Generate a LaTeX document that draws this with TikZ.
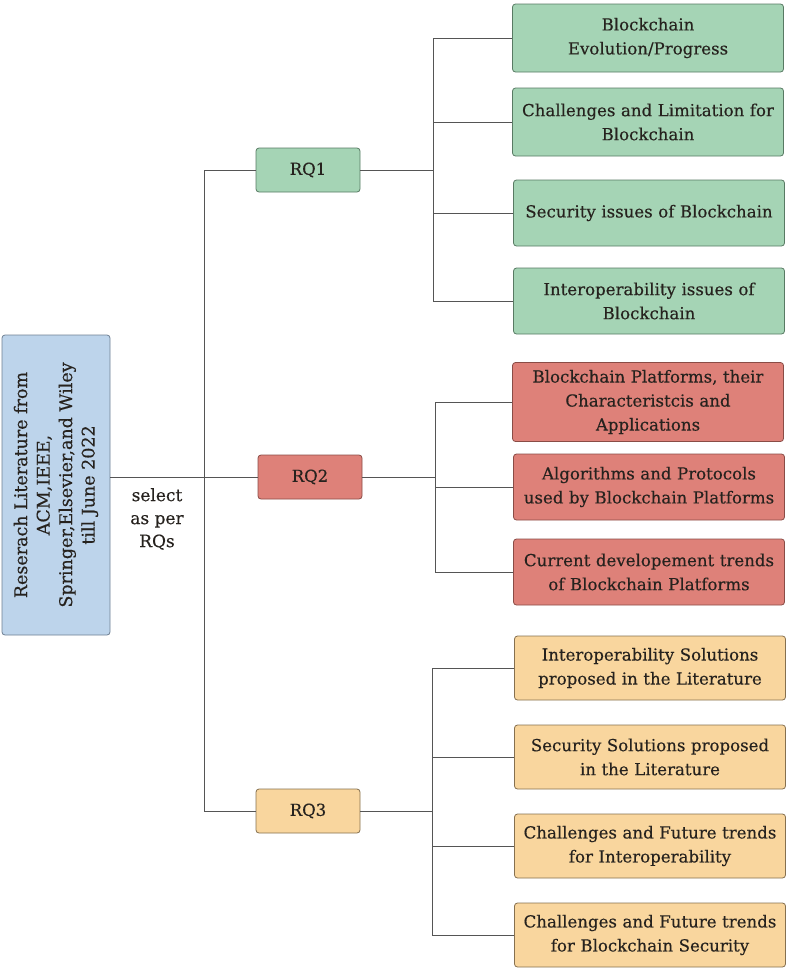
\documentclass[tikz,border=0pt]{standalone}
\usepackage{fontspec}
\setmainfont{DejaVu Serif}[FakeBold=0.35]
\usepackage{xcolor}
\usepackage{tikz}
\usetikzlibrary{calc, positioning}

\definecolor{litblue}{HTML}{BDD4EB}
\definecolor{litedge}{HTML}{6E7F93}
\definecolor{rqgreen}{HTML}{A5D4B5}
\definecolor{greenedge}{HTML}{587A63}
\definecolor{rqred}{HTML}{DE8179}
\definecolor{rededge}{HTML}{8A4C46}
\definecolor{rqorange}{HTML}{F9D69E}
\definecolor{orangeedge}{HTML}{86704F}
\definecolor{txtdark}{HTML}{26221E}
\definecolor{linkgray}{HTML}{555555}

\tikzset{
    basebox/.style={draw, rounded corners=3pt, thick, align=center, text=txtdark,
        font=\fontsize{16.6}{24}\selectfont, inner sep=2pt},
    rqbox/.style={basebox, minimum width=104pt, minimum height=44pt,
        font=\fontsize{16.5}{20}\selectfont},
    topicbox/.style={basebox, minimum width=271pt, text width=266pt},
    link/.style={linkgray, line width=0.9pt}
}

\begin{document}
\begin{tikzpicture}[x=1pt, y=-1pt]
    \useasboundingbox (0,0) rectangle (789,972);

    % 1. Khung nguồn tài liệu bên trái
    \node[basebox, fill=litblue, draw=litedge, rotate=90, minimum width=300pt,
        minimum height=108pt, font=\fontsize{17.5}{22.5}\selectfont] (lit) at (56,485)
        {Reserach Literature from\\ACM,IEEE,\\Springer,Elsevier,and Wiley\\till June 2022};
    \node[font=\fontsize{17}{23}\selectfont, align=center, text=txtdark] (sel) at (157,519)
        {select\\as per\\RQs};

    % 2. Các nút RQ
    \node[rqbox, fill=rqgreen, draw=greenedge] (rq1) at (308,170) {RQ1};
    \node[rqbox, fill=rqred, draw=rededge] (rq2) at (310,477) {RQ2};
    \node[rqbox, fill=rqorange, draw=orangeedge] (rq3) at (308,811) {RQ3};

    % 3. Các chủ đề của RQ1 (màu xanh lá)
    \node[topicbox, fill=rqgreen, draw=greenedge, minimum height=68pt] (g1) at (648,38)
        {Blockchain\\Evolution/Progress};
    \node[topicbox, fill=rqgreen, draw=greenedge, minimum height=68pt] (g2) at (648,122)
        {Challenges and Limitation for\\Blockchain};
    \node[topicbox, fill=rqgreen, draw=greenedge, minimum height=66pt] (g3) at (649,213)
        {Security issues of Blockchain};
    \node[topicbox, fill=rqgreen, draw=greenedge, minimum height=66pt] (g4) at (649,301)
        {Interoperability issues of\\Blockchain};

    % 4. Các chủ đề của RQ2 (màu đỏ)
    \node[topicbox, fill=rqred, draw=rededge, minimum height=79pt] (r1) at (648,402)
        {Blockchain Platforms, their\\Characteristcis and\\Applications};
    \node[topicbox, fill=rqred, draw=rededge, minimum height=66pt] (r2) at (649,487)
        {Algorithms and Protocols\\used by Blockchain Platforms};
    \node[topicbox, fill=rqred, draw=rededge, minimum height=66pt] (r3) at (649,572)
        {Current developement trends\\of Blockchain Platforms};

    % 5. Các chủ đề của RQ3 (màu cam)
    \node[topicbox, fill=rqorange, draw=orangeedge, minimum height=64pt] (o1) at (650,668)
        {Interoperability Solutions\\proposed in the Literature};
    \node[topicbox, fill=rqorange, draw=orangeedge, minimum height=64pt] (o2) at (650,757)
        {Security Solutions proposed\\in the Literature};
    \node[topicbox, fill=rqorange, draw=orangeedge, minimum height=64pt] (o3) at (650,846)
        {Challenges and Future trends\\for Interoperability};
    \node[topicbox, fill=rqorange, draw=orangeedge, minimum height=64pt] (o4) at (650,935)
        {Challenges and Future trends\\for Blockchain Security};

    % 6. Đường nối
    \coordinate (trunk) at (204,477);
    \coordinate (b1) at (433,0);
    \coordinate (b2) at (435,0);
    \coordinate (b3) at (432,0);

    \draw[link] (trunk -| lit.south) -- (trunk);
    \draw[link] (rq1.west -| trunk) -- (rq3.west -| trunk);
    \foreach \q in {rq1, rq2, rq3}
        \draw[link] (\q.west -| trunk) -- (\q.west);

    \draw[link] (rq1.east) -- (rq1.east -| b1);
    \draw[link] (g1.west -| b1) -- (g4.west -| b1);
    \foreach \t in {g1, g2, g3, g4}
        \draw[link] (\t.west -| b1) -- (\t.west);

    \draw[link] (rq2.east) -- (rq2.east -| b2);
    \draw[link] (r1.west -| b2) -- (r3.west -| b2);
    \foreach \t in {r1, r2, r3}
        \draw[link] (\t.west -| b2) -- (\t.west);

    \draw[link] (rq3.east) -- (rq3.east -| b3);
    \draw[link] (o1.west -| b3) -- (o4.west -| b3);
    \foreach \t in {o1, o2, o3, o4}
        \draw[link] (\t.west -| b3) -- (\t.west);
\end{tikzpicture}
\end{document}
